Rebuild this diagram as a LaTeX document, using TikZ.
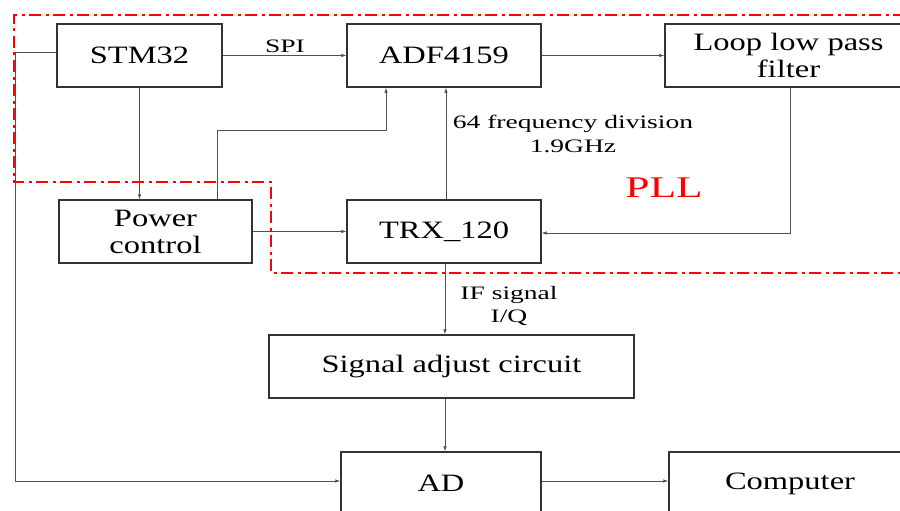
\documentclass[tikz,border=0pt]{standalone}
\usepackage{fontspec}
\setmainfont{Liberation Serif}[FakeStretch=1.3]
\newfontfamily\lblfont{Liberation Serif}[FakeStretch=1.45]
\usetikzlibrary{arrows.meta}
\definecolor{boxline}{HTML}{333333}
\definecolor{connline}{HTML}{505050}
\definecolor{pllred}{HTML}{FF0000}
\begin{document}
\begin{tikzpicture}[x=1pt,y=-1pt,
  box/.style={draw=boxline, line width=1.4pt, rectangle, inner sep=0pt, align=center,
              font=\fontsize{25}{27}\selectfont, minimum height=63pt},
  conn/.style={draw=connline, line width=0.8pt},
  arr/.style={conn, -{Latex[length=5pt,width=3.6pt]}},
  lbl/.style={inner sep=0pt, align=center, font=\lblfont\fontsize{19}{23.5}\selectfont},
  pllzone/.style={draw=pllred, line width=2.4pt, dash pattern=on 12pt off 4.5pt on 3pt off 4.5pt}
]
\useasboundingbox (0,0) rectangle (900,511);
\clip (0,0) rectangle (900,511);
\fill[white] (0,0) rectangle (900,511);

% PLL zone
\draw[pllzone] (905,15) -- (14,15) -- (14,182) -- (271,182) -- (271,273) -- (905,273);
\node[inner sep=0pt, text=pllred, font=\lblfont\fontsize{30}{36}\selectfont, anchor=base] (pll) at (664,197) {PLL};

% blocks
\node[box, minimum width=165pt] (stm) at (139.5,55.5) {STM32};
\node[box, minimum width=194pt] (adf) at (444,55.5) {ADF4159};
\node[box, minimum width=247pt, text width=240pt] (lpf) at (788.5,55.5) {Loop low pass\\filter};
\node[box, minimum width=193pt] (pc) at (155.5,231.5) {Power\\control};
\node[box, minimum width=194pt] (trx) at (444,231.5) {TRX\_120};
\node[box, minimum width=365pt] (sac) at (451.5,366.5) {Signal adjust circuit};
\node[box, minimum width=200pt] (ad) at (441,483.5) {AD};
\node[box, minimum width=242pt] (comp) at (790,483.5) {Computer};

% helper coordinates
\coordinate (k1) at (217,130);
\coordinate (k2) at (386,130);
\coordinate (k3) at (790,233);
\coordinate (k4) at (15,52);
\coordinate (k5) at (15,481);
\coordinate (k6) at (445,0);

% connectors
\draw[arr] (stm.east) -- (adf.west);
\node[lbl, anchor=base] (spi) at (285,53) {SPI};
\draw[arr] (adf.east) -- (lpf.west);
\draw[arr] (stm.south) -- (pc.north -| stm.south);
\draw[arr] (pc.north -| k1) -- (k1) -- (k2) -- (adf.south -| k2);
\draw[arr] (pc.east) -- (trx.west);
\draw[arr] (trx.north -| 446,0) -- (adf.south -| 446,0);
\node[lbl] (div) at (573,134) {64 frequency division\\1.9GHz};
\draw[arr] (lpf.south -| k3) -- (k3) -- (trx.east |- k3);
\draw[arr] (trx.south -| k6) -- (sac.north -| k6);
\node[lbl] (ifs) at (509,306) {IF signal\\I/Q};
\draw[arr] (sac.south -| k6) -- (ad.north -| k6);
\draw[arr] (stm.west |- k4) -- (k4) -- (k5) -- (ad.west |- k5);
\draw[arr] (ad.east |- k5) -- (comp.west |- k5);
\end{tikzpicture}
\end{document}
